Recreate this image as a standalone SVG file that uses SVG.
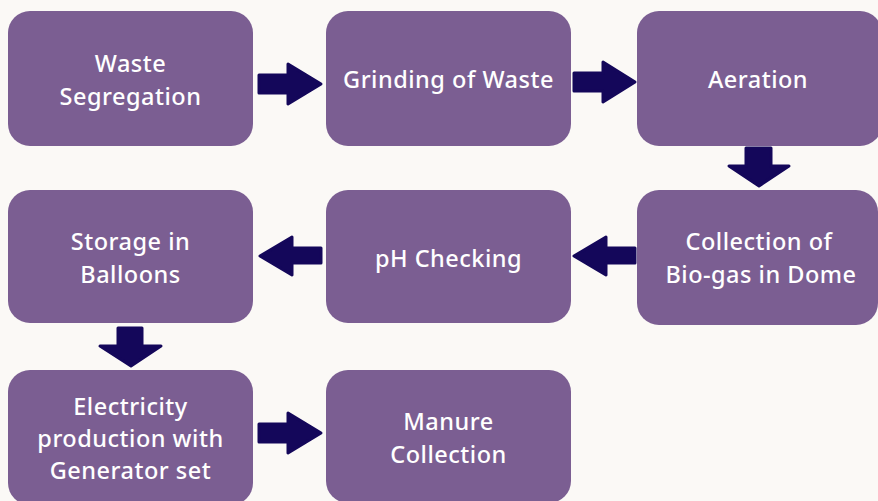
<svg xmlns="http://www.w3.org/2000/svg" width="878" height="501" viewBox="0 0 878 501">
<style>
.box{fill:#7b5e92;}
.t{fill:#ffffff;font-family:"Noto Sans","DejaVu Sans",sans-serif;font-size:23.5px;font-weight:500;text-anchor:middle;letter-spacing:0.5px;}
.arr{fill:#14075a;stroke:#14075a;stroke-width:3;stroke-linejoin:round;}
</style>
<rect width="878" height="501" fill="#fbf9f6"/>
<g id="n1"><rect class="box" x="8" y="11" width="245" height="135" rx="22"/><text class="t" x="130.5" y="72">Waste</text><text class="t" x="130.5" y="105">Segregation</text></g>
<g id="n2"><rect class="box" x="326" y="11" width="245" height="135" rx="22"/><text class="t" x="448.5" y="88">Grinding of Waste</text></g>
<g id="n3"><rect class="box" x="637" y="11" width="245" height="135" rx="22"/><text class="t" x="758" y="88">Aeration</text></g>
<g id="n4"><rect class="box" x="637" y="190" width="241" height="135" rx="22"/><text class="t" x="759" y="250">Collection of</text><text class="t" x="761" y="283">Bio-gas in Dome</text></g>
<g id="n5"><rect class="box" x="326" y="190" width="245" height="133" rx="22"/><text class="t" x="448.5" y="267">pH Checking</text></g>
<g id="n6"><rect class="box" x="8" y="190" width="245" height="133" rx="22"/><text class="t" x="130.5" y="250">Storage in</text><text class="t" x="130.5" y="283">Balloons</text></g>
<g id="n7"><rect class="box" x="8" y="370" width="245" height="135" rx="22"/><text class="t" x="130.5" y="415">Electricity</text><text class="t" x="130.5" y="447">production with</text><text class="t" x="130.5" y="479">Generator set</text></g>
<g id="n8"><rect class="box" x="326" y="370" width="245" height="133" rx="22"/><text class="t" x="448.5" y="430">Manure</text><text class="t" x="448.5" y="463">Collection</text></g>
<g id="connectors">
<polygon class="arr" points="259,75 288,75 288,64 321,84 288,104 288,93 259,93"/>
<polygon class="arr" points="574,73 603,73 603,62 635,82 603,102 603,91 574,91"/>
<polygon class="arr" points="746,148 771,148 771,166 789,166 759,186 729,166 746,166"/>
<polygon class="arr" points="635,248 606,248 606,237 574,256 606,275 606,263 635,263"/>
<polygon class="arr" points="321,248 292,248 292,237 260,256 292,275 292,263 321,263"/>
<polygon class="arr" points="118,328 142,328 142,346 161,346 131,366 100,346 118,346"/>
<polygon class="arr" points="259,424 288,424 288,413 321,433 288,453 288,442 259,442"/>
</g>
</svg>
